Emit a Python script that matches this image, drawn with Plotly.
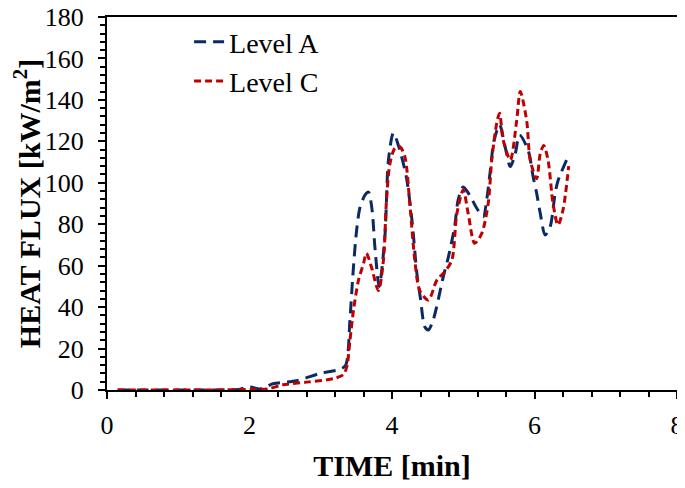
import plotly.graph_objects as go

# Level A (blue)
time_a = [0.15, 0.5, 1.0, 1.5, 1.85, 2.0, 2.15, 2.33, 2.66, 2.99, 3.27, 3.35, 3.41, 3.45, 3.5, 3.55, 3.62, 3.67, 3.72, 3.76, 3.82,
          3.9, 3.95, 4.02, 4.09, 4.2, 4.28, 4.35, 4.4, 4.46, 4.51, 4.58, 4.72, 4.79, 4.88, 4.93, 5.0, 5.09, 5.19, 5.28,
          5.33, 5.38, 5.43, 5.51, 5.59, 5.66, 5.73, 5.79, 5.91, 5.98, 6.03, 6.08, 6.15, 6.22, 6.29, 6.33, 6.45]
flux_a = [0, 0, 0, 0, 0.3, 1.5, 0.5, 3, 4.5, 8, 10, 12, 34, 55, 76, 88, 94, 95.5, 87, 69, 50,
          74, 111, 124, 118, 103, 82, 56, 44, 30.5, 29, 34, 54.7, 64, 79, 92, 98, 94, 87.7, 83.6,
          92, 106, 120, 128, 117, 107.8, 114, 123, 115.8, 103, 95, 85.4, 74.8, 78.8, 95, 101, 111]

# Level C (red)
time_c = [0.15, 0.5, 1.0, 1.5, 2.0, 2.25, 2.47, 2.8, 3.18, 3.32, 3.37, 3.41, 3.46, 3.53, 3.6, 3.64, 3.71, 3.81,
          3.88, 3.92, 3.97, 4.04, 4.11, 4.18, 4.25, 4.32, 4.39, 4.51, 4.63, 4.74, 4.84, 4.91, 5.0, 5.07, 5.16, 5.26,
          5.35, 5.4, 5.47, 5.51, 5.56, 5.66, 5.75, 5.8, 5.89, 5.94, 6.03, 6.08, 6.13, 6.19, 6.26, 6.33, 6.4, 6.48]
flux_c = [0, 0, 0, 0, 0.3, 0.5, 2.5, 3.8, 5.5, 7.5, 12, 24, 38.6, 53, 61, 66, 59.5, 48,
          62.7, 90, 109, 116.6, 117.4, 112.6, 90, 62.7, 48, 43.4, 53, 57, 62.7, 85, 96.5, 85, 70.8, 75.6,
          90, 111, 128.7, 133.5, 120.7, 111, 130, 144, 130, 111, 102, 114, 118, 111, 90, 79.6, 86.9, 108]

x_ticks = [0, 2, 4, 6, 8]
y_ticks = [0, 20, 40, 60, 80, 100, 120, 140, 160, 180]

FONT = "Liberation Serif"

fig = go.Figure()
fig.add_trace(go.Scatter(x=time_a, y=flux_a, mode="lines", name="Level A",
                         line=dict(color="#0B2A63", width=3, dash="12px,7px", shape="spline", smoothing=0.8)))
fig.add_trace(go.Scatter(x=time_c, y=flux_c, mode="lines", name="Level C",
                         line=dict(color="#C00000", width=3, dash="7px,4px", shape="spline", smoothing=0.8)))

axis_common = dict(showline=True, linecolor="black", linewidth=2, mirror=True,
                   ticks="outside", ticklen=7, tickwidth=2, tickcolor="black",
                   showgrid=False, zeroline=False, automargin=False,
                   ticklabeloverflow="allow",
                   tickfont=dict(family=FONT, size=26, color="black"))

fig.update_xaxes(range=[0, 8], tickvals=x_ticks, ticklabelstandoff=4,
                 minor=dict(dtick=0.4, ticks="outside", ticklen=5, tickwidth=2, tickcolor="black"),
                 title=dict(text="<b>TIME [min]</b>", font=dict(family=FONT, size=30, color="black"), standoff=16),
                 **axis_common)
fig.update_yaxes(range=[0, 180], tickvals=y_ticks, ticklabelstandoff=9,
                 minor=dict(dtick=4, ticks="outside", ticklen=5, tickwidth=2, tickcolor="black"),
                 title=dict(text="<b>HEAT FLUX [kW/m<sup>2</sup>]</b>", font=dict(family=FONT, size=30, color="black"), standoff=10),
                 **axis_common)

# the page adds an 8px body margin; margins compensate so the plot box sits where the reference has it
fig.update_layout(
    width=685, height=488,
    margin=dict(l=99, r=16, t=9, b=106),
    paper_bgcolor="white", plot_bgcolor="white",
    showlegend=True,
    legend=dict(x=0.144, y=1.0, xanchor="left", yanchor="top",
                bgcolor="rgba(0,0,0,0)", borderwidth=0,
                font=dict(family=FONT, size=28, color="black"),
                tracegroupgap=0),
)

fig.write_html("out.html")
